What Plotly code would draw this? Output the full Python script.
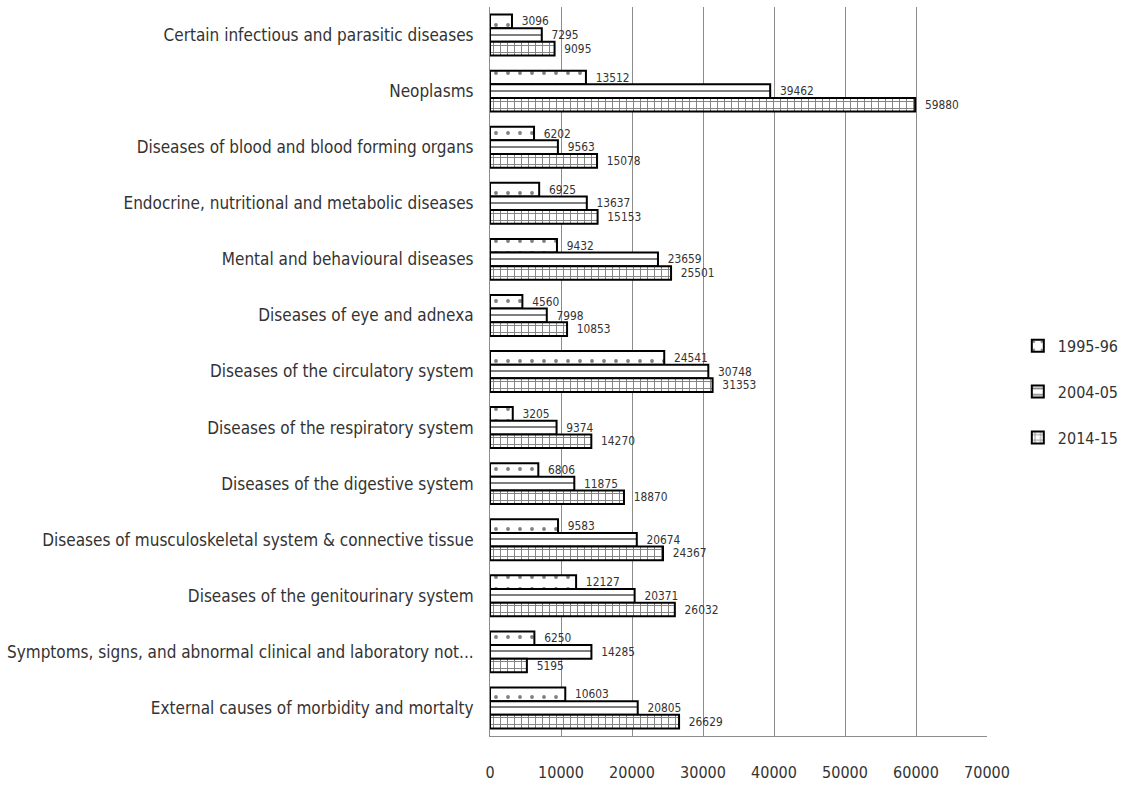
import plotly.graph_objects as go

categories = [
    "Certain infectious and parasitic diseases",
    "Neoplasms",
    "Diseases of blood and blood forming organs",
    "Endocrine, nutritional and metabolic diseases",
    "Mental and behavioural diseases",
    "Diseases of eye and adnexa",
    "Diseases of the circulatory system",
    "Diseases of the respiratory system",
    "Diseases of the digestive system",
    "Diseases of musculoskeletal system & connective tissue",
    "Diseases of the genitourinary system",
    "Symptoms, signs, and abnormal clinical and laboratory not...",
    "External causes of morbidity and mortalty",
]
series_names = ["1995-96", "2004-05", "2014-15"]
v1995 = [3096, 13512, 6202, 6925, 9432, 4560, 24541, 3205, 6806, 9583, 12127, 6250, 10603]
v2004 = [7295, 39462, 9563, 13637, 23659, 7998, 30748, 9374, 11875, 20674, 20371, 14285, 20805]
v2014 = [9095, 59880, 15078, 15153, 25501, 10853, 31353, 14270, 18870, 24367, 26032, 5195, 26629]
x_ticks = [0, 10000, 20000, 30000, 40000, 50000, 60000, 70000]

values = [v1995, v2004, v2014]
pattern_styles = [
    dict(shape=".", size=12, solidity=0.08),
    dict(shape="-", size=8, solidity=0.25),
    dict(shape="+", size=7, solidity=0.25),
]

font_fam = "DejaVu Sans Condensed, Liberation Sans Narrow, Arial, sans-serif"

fig = go.Figure()
for name, vals, pst in zip(series_names, values, pattern_styles):
    fig.add_trace(go.Bar(
        y=categories, x=vals, name=name, orientation="h", legendgroup=name,
        marker=dict(color="white",
                    line=dict(color="black", width=2),
                    pattern=dict(fgcolor="black", bgcolor="white", **pst)),
        text=["\u00a0\u00a0" + str(v) for v in vals], textposition="outside",
        textfont=dict(family=font_fam, size=13, color="#333333"),
        cliponaxis=False,
    ))

fig.update_layout(
    width=1139, height=789,
    paper_bgcolor="white", plot_bgcolor="white",
    barmode="group", bargap=0.27, bargroupgap=0,
    margin=dict(l=490, r=152, t=7, b=47),
    font=dict(family=font_fam, size=16, color="#404040"),
    legend=dict(x=1.062, y=0.472, xanchor="left", yanchor="middle",
                font=dict(size=16, color="#333333"), tracegroupgap=22,
                itemwidth=30),
    showlegend=True,
)
fig.update_xaxes(range=[0, 70000], tickvals=x_ticks, ticktext=[str(t) for t in x_ticks],
                 showgrid=True, gridcolor="#8c8c8c", gridwidth=1,
                 showline=True, linecolor="#8c8c8c", linewidth=1,
                 zeroline=False, ticklabelstandoff=22,
                 tickfont=dict(size=16, color="#333333"))
fig.update_yaxes(autorange="reversed", showline=True, linecolor="#8c8c8c", linewidth=1,
                 ticks="", ticklabelstandoff=12,
                 tickfont=dict(size=17, color="#333333"))

fig.write_html("out.html", config={"displayModeBar": False},
               post_script="document.body.style.margin='0';document.body.style.overflow='hidden';")
